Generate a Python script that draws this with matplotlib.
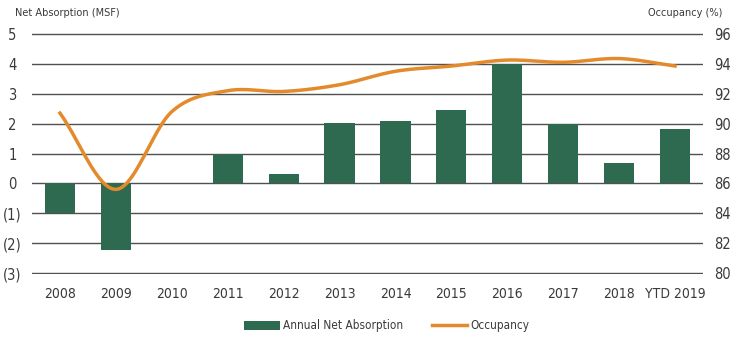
import numpy as np
import matplotlib.pyplot as plt
from matplotlib.patches import Patch
from matplotlib.lines import Line2D

# Data
years = ["2008", "2009", "2010", "2011", "2012", "2013", "2014", "2015",
         "2016", "2017", "2018", "YTD 2019"]
net_absorption = [-1.0, -2.22, 0.02, 0.99, 0.3, 2.03, 2.1, 2.44, 4.0, 1.98, 0.68, 1.82]
occupancy = [90.7, 85.6, 90.8, 92.2, 92.15, 92.6, 93.5, 93.85, 94.25, 94.1, 94.35, 93.85]
left_ticks = [-3, -2, -1, 0, 1, 2, 3, 4, 5]
left_labels = ["(3)", "(2)", "(1)", "0", "1", "2", "3", "4", "5"]
right_ticks = [80, 82, 84, 86, 88, 90, 92, 94, 96]

green = "#2d6a4f"
orange = "#e38b2c"
text_col = "#3a3a3a"
plt.rcParams["font.family"] = ["DejaVu Sans"]
plt.rcParams["font.stretch"] = "condensed"


def smooth(xs, ys, n=20):
    # Catmull-Rom spline through the points, just for drawing
    xs = np.asarray(xs, float)
    ys = np.asarray(ys, float)
    px = np.concatenate([[2 * xs[0] - xs[1]], xs, [2 * xs[-1] - xs[-2]]])
    py = np.concatenate([[2 * ys[0] - ys[1]], ys, [2 * ys[-1] - ys[-2]]])
    outx, outy = [], []
    t = np.linspace(0, 1, n, endpoint=False)
    for i in range(1, len(px) - 2):
        for p, out in ((px, outx), (py, outy)):
            p0, p1, p2, p3 = p[i - 1], p[i], p[i + 1], p[i + 2]
            out.extend(0.5 * (2 * p1 + (-p0 + p2) * t
                              + (2 * p0 - 5 * p1 + 4 * p2 - p3) * t ** 2
                              + (-p0 + 3 * p1 - 3 * p2 + p3) * t ** 3))
    outx.append(xs[-1])
    outy.append(ys[-1])
    return np.array(outx), np.array(outy)


fig = plt.figure(figsize=(7.42, 3.37), dpi=100)
ax = fig.add_axes([32 / 742, 1 - 274 / 337, 671 / 742, 241 / 337])
x = np.arange(len(years))

ax.bar(x, net_absorption, width=0.54, color=green, zorder=2)
ax.set_ylim(-3.03, 5.03)
ax.set_xlim(-0.5, len(years) - 0.5)
ax.set_yticks(left_ticks)
ax.set_yticklabels(left_labels, ha="center")
ax.grid(axis="y", color="#505050", linewidth=1.0, zorder=0)
ax.set_axisbelow(True)
for s in ax.spines.values():
    s.set_visible(False)
ax.set_xticks(x)
ax.set_xticklabels(years)
ax.tick_params(axis="both", length=0, labelsize=10.5, colors=text_col)
ax.tick_params(axis="x", labelsize=10, pad=9)
ax.tick_params(axis="y", pad=14)

ax2 = ax.twinx()
sx, sy = smooth(x, occupancy)
ax2.plot(sx, sy, color=orange, linewidth=2.5, zorder=3)
ax2.set_ylim(80 - 0.06, 96 + 0.06)
ax2.set_yticks(right_ticks)
for s in ax2.spines.values():
    s.set_visible(False)
ax2.tick_params(axis="y", length=0, labelsize=10.5, colors=text_col, pad=8)

fig.text(15 / 742, 1 - 13 / 337, "Net Absorption (MSF)", fontsize=7.8,
         color=text_col, va="center", ha="left")
fig.text(722 / 742, 1 - 13 / 337, "Occupancy (%)", fontsize=7.8,
         color=text_col, va="center", ha="right")

handles = [Patch(facecolor=green), Line2D([0], [0], color=orange, linewidth=2.5)]
fig.legend(handles, ["Annual Net Absorption", "Occupancy"], loc="center",
           bbox_to_anchor=(387 / 742, 1 - 326 / 337), ncol=2, frameon=False,
           fontsize=8.5, handlelength=3.0, handleheight=0.8, columnspacing=2.4,
           handletextpad=0.3, labelcolor=text_col)

fig.savefig("out.png", dpi=100)
